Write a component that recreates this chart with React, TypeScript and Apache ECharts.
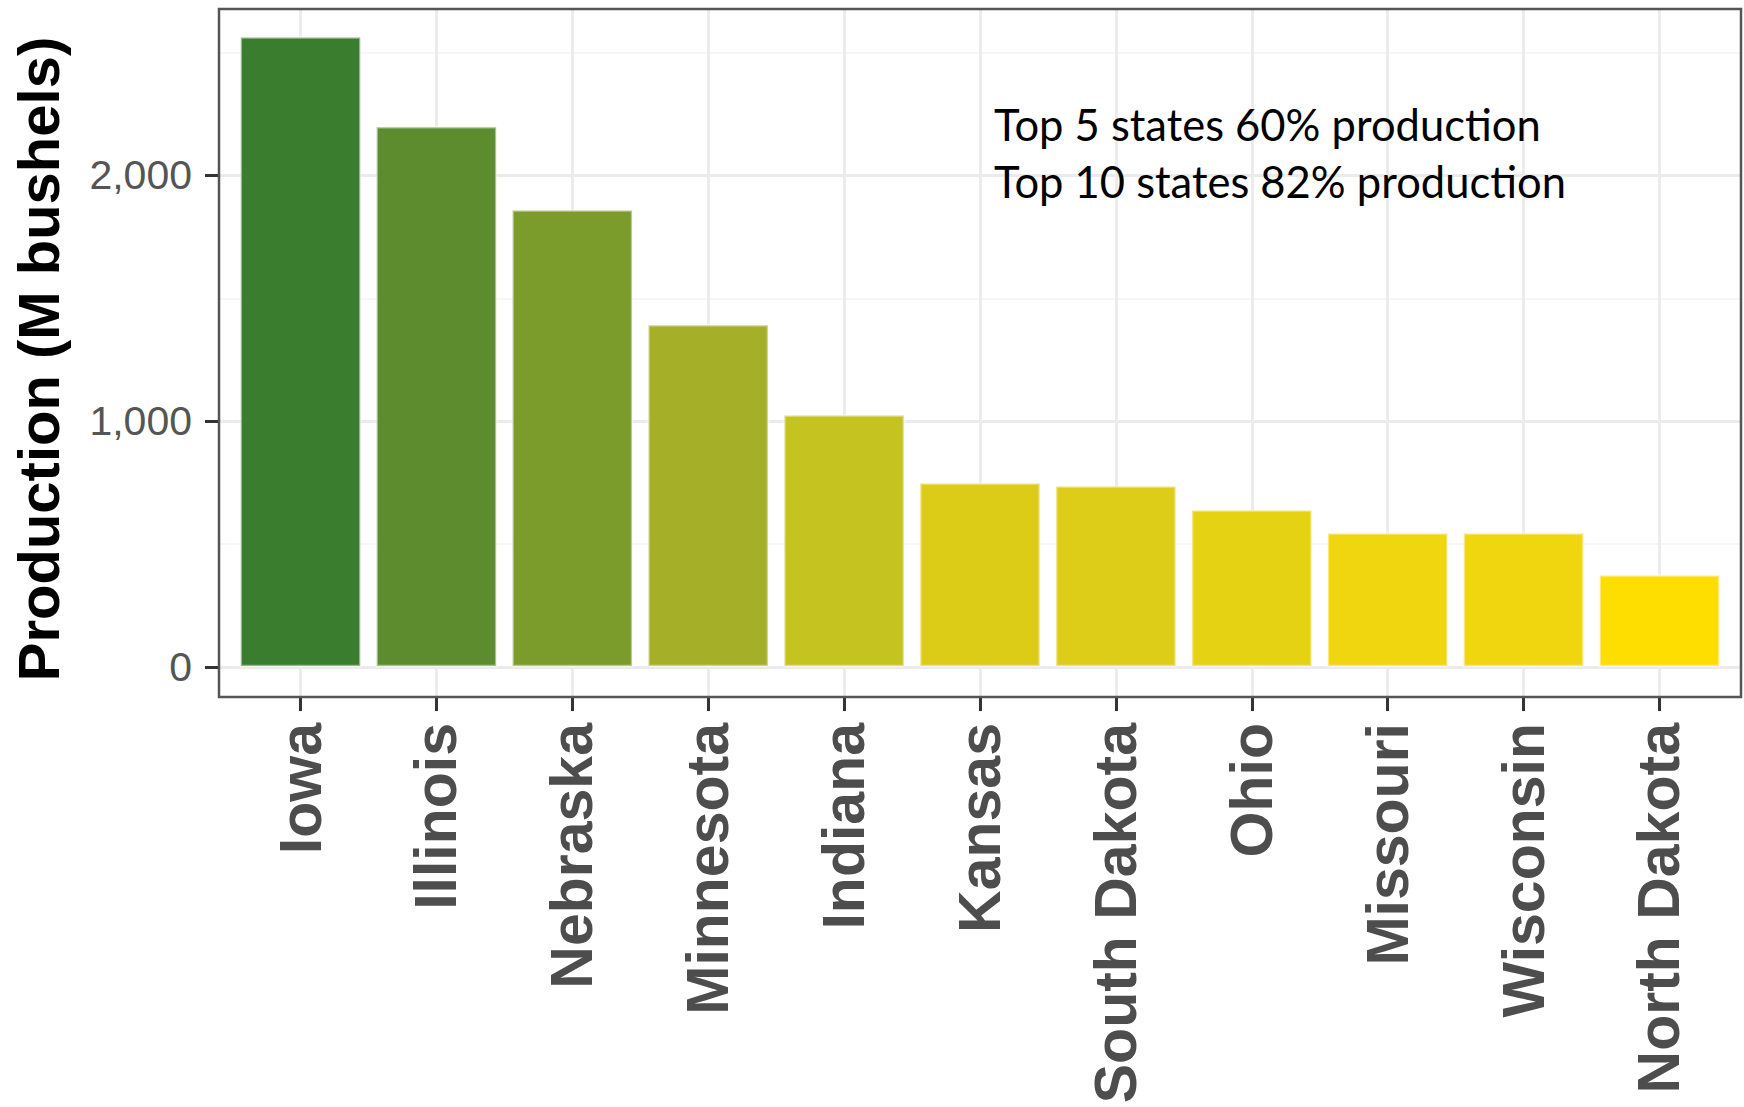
import React, { useEffect, useRef } from "react";
import * as echarts from "echarts";

const states = [
  "Iowa",
  "Illinois",
  "Nebraska",
  "Minnesota",
  "Indiana",
  "Kansas",
  "South Dakota",
  "Ohio",
  "Missouri",
  "Wisconsin",
  "North Dakota",
];
const production = [2565, 2200, 1862, 1395, 1028, 752, 740, 642, 549, 549, 378];
const yTickValues = [0, 1000, 2000];
const yMinorGridValues = [500, 1500, 2500];
const notes = ["Top 5 states 60% production", "Top 10 states 82% production"];
const yAxisTitle = "Production (M bushels)";

const barColors = [
  "#3A7D2E",
  "#5C8C2E",
  "#7B9B2B",
  "#A5AF28",
  "#C5C31F",
  "#DCCC18",
  "#DDCD18",
  "#E5D213",
  "#EFD60E",
  "#EFD60E",
  "#FEDD00",
];

export default function App() {
  const ref = useRef<HTMLDivElement>(null);

  useEffect(() => {
    if (!ref.current) return;
    const chart = echarts.init(ref.current, null, { renderer: "svg" });
    const idx = states.map((_, i) => i);

    const majorLine = { color: "#EBEBEB", width: 2.8, type: "solid" };
    const minorLine = { color: "#F3F3F3", width: 1.6, type: "solid" };

    const option = {
      animation: false,
      backgroundColor: "#FFFFFF",
      grid: {
        left: 219,
        top: 9,
        width: 1522,
        height: 688,
        show: true,
        borderColor: "#555555",
        borderWidth: 2.5,
        backgroundColor: "transparent",
        z: 3,
      },
      xAxis: {
        type: "value",
        min: -0.6,
        max: 10.6,
        splitLine: { show: false },
        axisLine: { show: false, onZero: false },
        axisTick: {
          show: true,
          customValues: idx,
          length: 14,
          lineStyle: { color: "#333333", width: 3 },
        },
        axisLabel: {
          show: true,
          customValues: idx,
          rotate: 90,
          margin: 26,
          fontSize: 59,
          fontWeight: "bold",
          color: "#4D4D4D",
          fontFamily: "Liberation Sans, Arial, sans-serif",
          formatter: (v: number) => states[Math.round(v)] ?? "",
        },
      },
      yAxis: {
        type: "value",
        min: -121,
        max: 2676,
        splitLine: { show: false },
        axisLine: { show: false, onZero: false },
        axisTick: {
          show: true,
          customValues: yTickValues,
          length: 14,
          lineStyle: { color: "#333333", width: 3 },
        },
        axisLabel: {
          show: true,
          customValues: yTickValues,
          margin: 27,
          fontSize: 41,
          color: "#555555",
          fontFamily: "Liberation Sans, Arial, sans-serif",
          formatter: (v: number) => v.toLocaleString("en-US"),
        },
        name: yAxisTitle,
        nameLocation: "middle",
        nameRotate: 90,
        nameGap: 152,
        nameTextStyle: {
          fontSize: 58,
          fontWeight: "bold",
          color: "#000000",
          fontFamily: "Liberation Sans, Arial, sans-serif",
          padding: [0, 12, 0, 0],
        },
      },
      series: [
        {
          type: "bar",
          z: 2,
          barWidth: 122,
          data: idx.map((i) => ({
            value: [i, production[i]],
            itemStyle: {
              color: barColors[i],
              borderColor: "rgba(255,255,255,0.45)",
              borderWidth: 2.5,
            },
          })),
          markLine: {
            silent: true,
            z: 1,
            symbol: ["none", "none"],
            label: { show: false },
            emphasis: { disabled: true },
            animation: false,
            data: [
              ...yMinorGridValues.map((v) => ({ yAxis: v, lineStyle: minorLine })),
              ...yTickValues.map((v) => ({ yAxis: v, lineStyle: majorLine })),
              ...idx.map((i) => ({ xAxis: i, lineStyle: majorLine })),
            ],
          },
        },
      ],
      graphic: notes.map((t, k) => ({
        type: "text",
        left: 994,
        top: 102 + k * 57,
        z: 10,
        style: {
          text: t,
          fill: "#000000",
          font: "43.5px Lato, 'Open Sans', sans-serif",
        },
      })),
    };

    chart.setOption(option as any);
    return () => chart.dispose();
  }, []);

  return (
    <div
      ref={ref}
      style={{ position: "fixed", left: 0, top: 0, width: 1744, height: 1107 }}
    />
  );
}
